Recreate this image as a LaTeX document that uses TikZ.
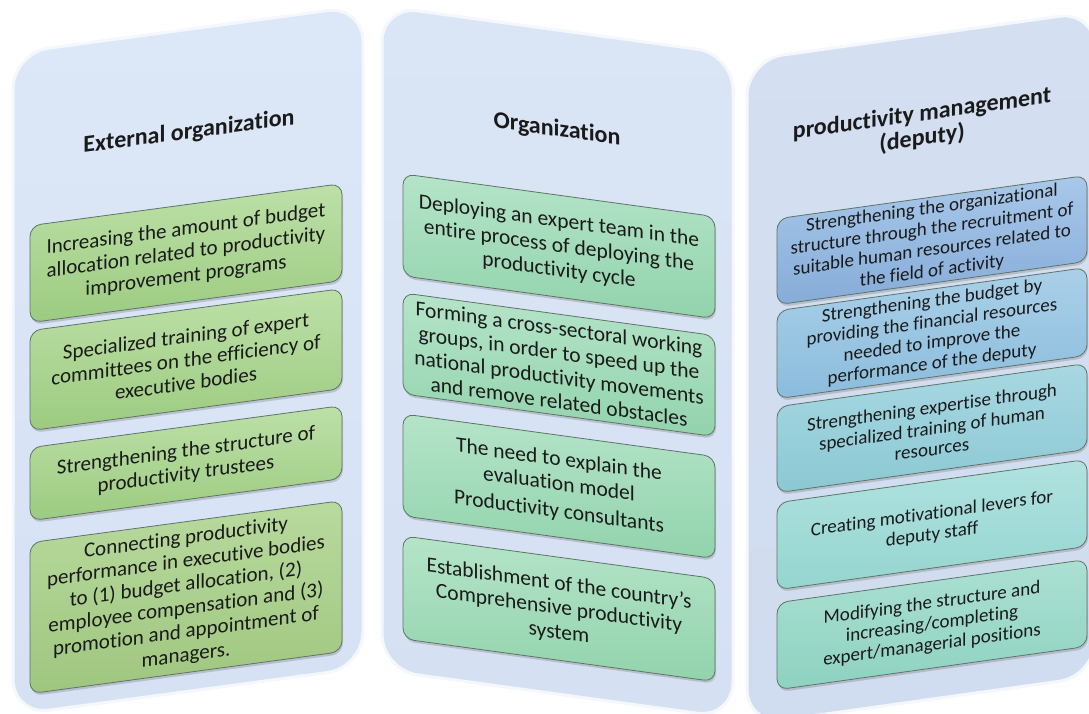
\documentclass[tikz,border=0pt]{standalone}
\usepackage{fontspec}
\setmainfont{Carlito}[Ligatures=NoCommon]
\usetikzlibrary{shadows}
\definecolor{colL}{HTML}{DCE7F7}
\definecolor{colLb}{HTML}{D6E2F4}
\definecolor{colM}{HTML}{DAE5F5}
\definecolor{colMb}{HTML}{D5E1F3}
\definecolor{colR}{HTML}{D4DFF1}
\definecolor{colRb}{HTML}{D0DCEF}
\definecolor{gTop}{HTML}{BDE0A8}
\definecolor{gBot}{HTML}{9CCB80}
\definecolor{oTop}{HTML}{B8DA9E}
\definecolor{oBot}{HTML}{9FC67F}
\definecolor{mTop}{HTML}{B5E4C9}
\definecolor{mBot}{HTML}{92D3AC}
\definecolor{rTopA}{HTML}{A9C8EA}
\definecolor{rBotA}{HTML}{85ACD8}
\definecolor{rTopB}{HTML}{AAD0E8}
\definecolor{rBotB}{HTML}{8BBCDD}
\definecolor{rTopC}{HTML}{A8D8E2}
\definecolor{rBotC}{HTML}{8BC8D3}
\definecolor{rTopD}{HTML}{B0E2E0}
\definecolor{rBotD}{HTML}{95D5D0}
\definecolor{rTopE}{HTML}{ABE0D3}
\definecolor{rBotE}{HTML}{8ED2C0}
\definecolor{txt}{HTML}{1A1A1A}
\definecolor{edge}{HTML}{5E7468}
\begin{document}
\begin{tikzpicture}[x=1pt,y=-1pt,
  colbox/.style={rounded corners=36pt, draw=white!70!colL, line width=3pt},
  heading/.style={transform shape, font=\bfseries\fontsize{24}{27}\selectfont, text=txt, align=center},
  itembox/.style={transform shape, rectangle, rounded corners=11pt, draw=edge, line width=0.8pt,
     inner sep=0pt, align=center, text=txt,
     drop shadow={opacity=0.35, shadow xshift=1pt, shadow yshift=-2.5pt}},
  lbox/.style={itembox, top color=gTop, bottom color=gBot, minimum width=312pt,
     font=\fontsize{21}{23.5}\selectfont},
  mbox/.style={itembox, top color=mTop, bottom color=mBot, minimum width=312pt,
     font=\fontsize{21.5}{24.5}\selectfont},
  rbox/.style={itembox, minimum width=310pt, font=\fontsize{19}{21}\selectfont}
]
\useasboundingbox (0,0) rectangle (1089,713);
\clip (0,0) rectangle (1089,713);
\fill[white] (0,0) rectangle (1089,713);

% ---------- left column ----------
\begin{scope}[shift={(13,0)}, yslant=0.135]
  \path[colbox, top color=colL, bottom color=colLb] (0,53) rectangle (350,715);
  \node[heading] (hL) at (176,156) {External organization};
  \node[lbox, minimum height=97pt] (l1) at (173,276.5)
    {Increasing the amount of budget\\ allocation related to productivity\\ improvement programs};
  \node[lbox, minimum height=100pt] (l2) at (173,383)
    {Specialized training of expert\\ committees on the efficiency of\\ executive bodies};
  \node[lbox, minimum height=73pt] (l3) at (173,486.5)
    {Strengthening the structure of\\ productivity trustees};
  \node[lbox, top color=oTop, bottom color=oBot, minimum height=151pt] (l4) at (173,620.5)
    {Connecting productivity\\ performance in executive bodies\\ to (1) budget allocation, (2)\\ employee compensation and (3)\\ promotion and appointment of\\ managers.};
\end{scope}

% ---------- middle column ----------
\begin{scope}[shift={(382,0)}, yslant=-0.137]
  \path[colbox, top color=colM, bottom color=colMb] (0,6) rectangle (351,670);
  \node[heading] (hM) at (175,106) {Organization};
  \node[mbox, minimum height=102pt] (m1) at (177,222)
    {Deploying an expert team in the\\ entire process of deploying the\\ productivity cycle};
  \node[mbox, minimum height=101pt] (m2) at (177,340.5)
    {Forming a cross-sectoral working\\ groups, in order to speed up the\\ national productivity movements\\ and remove related obstacles};
  \node[mbox, minimum height=102pt] (m3) at (177,462)
    {The need to explain the\\ evaluation model\\[3pt] Productivity consultants};
  \node[mbox, minimum height=103pt] (m4) at (177,584.5)
    {Establishment of the country's\\ Comprehensive productivity\\ system};
\end{scope}

% ---------- right column ----------
\begin{scope}[shift={(747,0)}, yslant=0.14]
  \path[colbox, top color=colR, bottom color=colRb] (0,60) rectangle (348,725);
  \node[heading, font=\bfseries\fontsize{24}{24.5}\selectfont] (hR) at (175,151) {productivity management\\ (deputy)};
  \node[rbox, top color=rTopA, bottom color=rBotA, minimum height=86pt] (r1) at (185,266)
    {Strengthening the organizational\\ structure through the recruitment of\\ suitable human resources related to\\ the field of activity};
  \node[rbox, top color=rTopB, bottom color=rBotB, minimum height=88pt] (r2) at (185,359)
    {Strengthening the budget by\\ providing the financial resources\\ needed to improve the\\ performance of the deputy};
  \node[rbox, top color=rTopC, bottom color=rBotC, minimum height=86pt] (r3) at (185,454)
    {Strengthening expertise through\\ specialized training of human\\ resources};
  \node[rbox, top color=rTopD, bottom color=rBotD, minimum height=87pt] (r4) at (185,550.5)
    {Creating motivational levers for\\ deputy staff};
  \node[rbox, top color=rTopE, bottom color=rBotE, minimum height=87pt] (r5) at (185,650.5)
    {Modifying the structure and\\ increasing/completing\\ expert/managerial positions};
\end{scope}
\end{tikzpicture}
\end{document}
